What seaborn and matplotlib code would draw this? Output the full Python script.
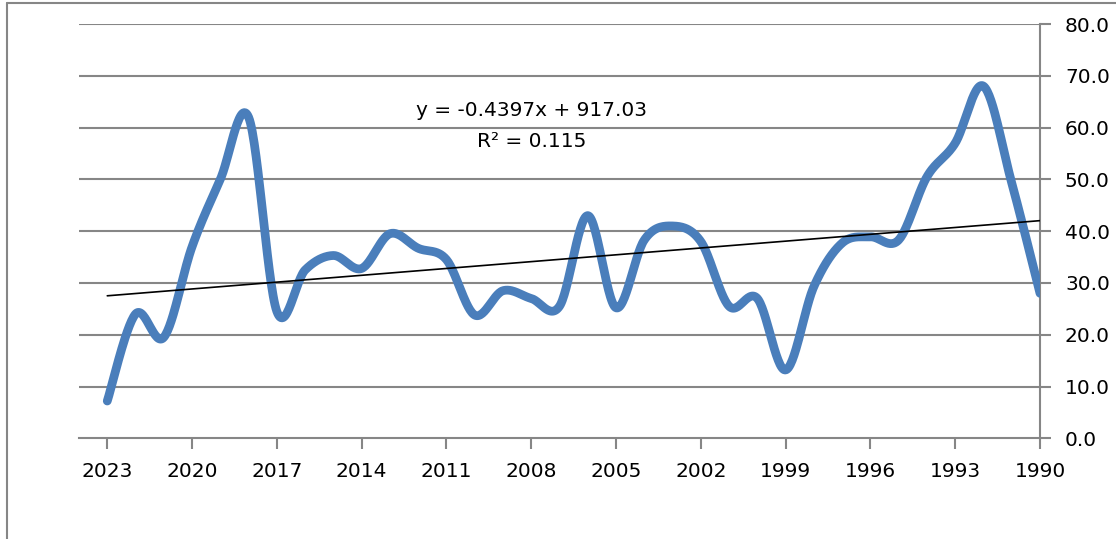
import numpy as np
import pandas as pd
import matplotlib
matplotlib.use("Agg")
import matplotlib.pyplot as plt
from matplotlib.lines import Line2D
import seaborn as sns

# ---- data ----
years = list(range(2023, 1989, -1))
values = [7.2, 24.0, 19.5, 37.0, 50.0, 62.0, 24.5, 32.5, 35.3, 32.8,
          39.5, 36.7, 34.5, 23.8, 28.5, 27.0, 25.5, 43.0, 25.2, 38.3,
          41.0, 38.0, 25.5, 27.0, 13.2, 29.3, 37.7, 38.9, 38.3, 50.5,
          57.0, 68.0, 49.3, 28.0]
trend_slope = -0.4397
trend_intercept = 917.03
trend_label = "y = -0.4397x + 917.03\nR\u00b2 = 0.115"
x_ticks = list(range(2023, 1989, -3))
y_ticks = [0, 10, 20, 30, 40, 50, 60, 70, 80]

sns.set_theme(style="white")
plt.rcParams["font.family"] = ["DejaVu Sans"]

def smooth_curve(xs, ys, n=30):
    """Excel-style smoothed line (Bezier through points, Catmull-Rom tangents)."""
    P = np.column_stack([xs, ys]).astype(float)
    out = []
    m = len(P)
    for i in range(m - 1):
        p0 = P[i - 1] if i > 0 else P[i]
        p1 = P[i]
        p2 = P[i + 1]
        p3 = P[i + 2] if i + 2 < m else P[i + 1]
        c1 = p1 + (p2 - p0) / 6.0
        c2 = p2 - (p3 - p1) / 6.0
        t = np.linspace(0, 1, n, endpoint=(i == m - 2))[:, None]
        seg = ((1 - t) ** 3) * p1 + 3 * ((1 - t) ** 2) * t * c1 + 3 * (1 - t) * t ** 2 * c2 + t ** 3 * p2
        out.append(seg)
    out = np.vstack(out)
    return out[:, 0], out[:, 1]

sx, sy = smooth_curve(years, values)
df_smooth = pd.DataFrame({"year": sx, "value": sy})

fig = plt.figure(figsize=(11.16, 5.39), dpi=100)
ax = fig.add_axes([79 / 1116, 1 - 438.3 / 539, (1040 - 79) / 1116, (438.3 - 24) / 539])

grid_col = "#868686"
for yt in y_ticks[1:]:
    ax.axhline(yt, color=grid_col, lw=1.5, zorder=0)

sns.lineplot(data=df_smooth, x="year", y="value", sort=False, ax=ax,
             color="#4A7EBB", lw=6.3, solid_capstyle="round", solid_joinstyle="round",
             zorder=3, estimator=None)

tx = np.array([years[0], years[-1]], dtype=float)
ax.plot(tx, trend_slope * tx + trend_intercept, color="black", lw=1.2, zorder=4)

ax.text(2008.0, 60.3, trend_label, ha="center", va="center", fontsize=14.5,
        linespacing=1.8, color="black")

ax.set_xlim(2024, 1990)
ax.set_ylim(0, 80)
ax.set_xticks(x_ticks)
ax.set_xticklabels([str(v) for v in x_ticks])
ax.set_yticks(y_ticks)
ax.set_yticklabels([f"{v:.1f}" for v in y_ticks])
ax.yaxis.tick_right()
ax.set_xlabel("")
ax.set_ylabel("")

for s in ["top", "left"]:
    ax.spines[s].set_visible(False)
for s in ["bottom", "right"]:
    ax.spines[s].set_color(grid_col)
    ax.spines[s].set_linewidth(1.5)

ax.tick_params(axis="x", direction="out", length=8, width=1.5, color=grid_col,
               labelsize=14.5, pad=9, bottom=True, labelcolor="black")
ax.tick_params(axis="y", direction="out", length=8, width=1.5, color=grid_col,
               labelsize=14.5, pad=10, right=True, left=False, labelcolor="black")
ax.set_facecolor("white")

# outer chart frame (left and top edges visible in the reference)
fig.add_artist(Line2D([7 / 1116, 7 / 1116], [0, 1 - 3 / 539], transform=fig.transFigure,
                      color=grid_col, lw=1.5))
fig.add_artist(Line2D([7 / 1116, 1], [1 - 3 / 539, 1 - 3 / 539], transform=fig.transFigure,
                      color=grid_col, lw=1.5))

fig.savefig("out.png", dpi=100, facecolor="white")
